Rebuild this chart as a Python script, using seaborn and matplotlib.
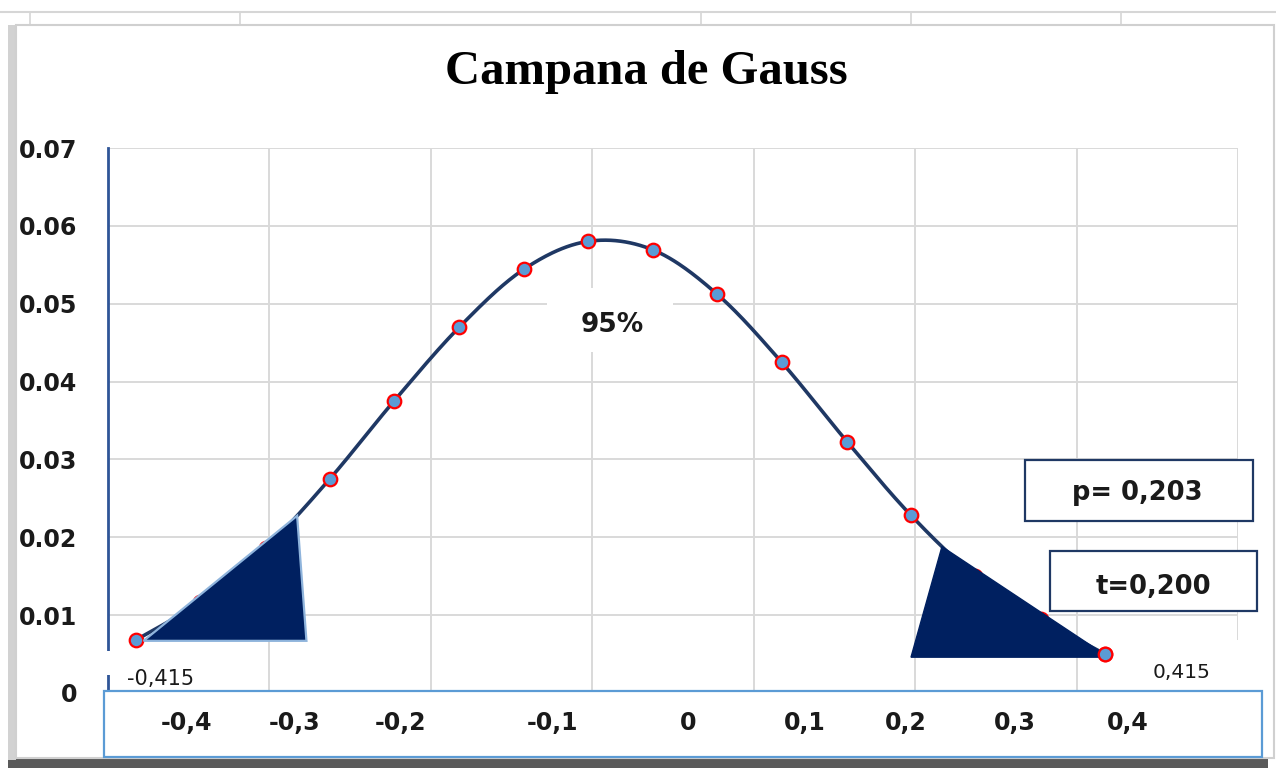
import numpy as np
import seaborn as sns
import matplotlib.pyplot as plt
from matplotlib.patches import Rectangle, Polygon
from matplotlib.lines import Line2D

# --- data ---
x_vals = [-0.415, -0.360, -0.304, -0.249, -0.194, -0.138, -0.083, -0.028,
          0.028, 0.083, 0.138, 0.194, 0.249, 0.304, 0.360, 0.415]
y_vals = [0.0068, 0.0117, 0.0186, 0.0275, 0.0375, 0.0470, 0.0544, 0.0580,
          0.0569, 0.0512, 0.0425, 0.0323, 0.0228, 0.0150, 0.0095, 0.0050]

y_ticks = [0, 0.01, 0.02, 0.03, 0.04, 0.05, 0.06, 0.07]
y_tick_labels = ["0", "0.01", "0.02", "0.03", "0.04", "0.05", "0.06", "0.07"]

box_labels = ["-0,4", "-0,3", "-0,2", "-0,1", "0", "0,1", "0,2", "0,3", "0,4"]
box_label_px = [187, 295, 400, 553, 688, 805, 906, 1015, 1128]

# hand-drawn tail shapes: (tip x, top x on curve, bottom corner x, base y)
left_tail = (-0.4085, -0.2770, -0.2690, 0.0067)
right_tail = (0.4100, 0.2754, 0.2489, 0.0046)

NAVY = "#002060"
LINE = "#1F3864"
GRID = "#D9D9D9"
TXT = "#1a1a1a"

W, H = 1276, 771


def smooth(xs, ys, n=40):
    # catmull-rom, roughly what excel does for "smoothed line"
    p = np.column_stack([xs, ys])
    p = np.vstack([2 * p[0] - p[1], p, 2 * p[-1] - p[-2]])
    out = []
    t = np.linspace(0, 1, n, endpoint=False)[:, None]
    for i in range(1, len(p) - 2):
        p0, p1, p2, p3 = p[i - 1], p[i], p[i + 1], p[i + 2]
        seg = 0.5 * ((2 * p1) + (-p0 + p2) * t + (2 * p0 - 5 * p1 + 4 * p2 - p3) * t ** 2
                     + (-p0 + 3 * p1 - 3 * p2 + p3) * t ** 3)
        out.append(seg)
    out.append(p[-2][None, :])
    out = np.vstack(out)
    return out[:, 0], out[:, 1]


sns.set_theme(style="white")
plt.rcParams['font.family'] = ['DejaVu Sans']

fig = plt.figure(figsize=(W / 100, H / 100), dpi=100)


def fx(px):
    return px / W


def fy(py):
    return 1 - py / H


def fig_rect(x0, y0, x1, y1, **kw):
    r = Rectangle((fx(x0), fy(y1)), (x1 - x0) / W, (y1 - y0) / H,
                  transform=fig.transFigure, **kw)
    fig.add_artist(r)


def fig_line(xs, ys, **kw):
    fig.add_artist(Line2D([fx(v) for v in xs], [fy(v) for v in ys],
                          transform=fig.transFigure, **kw))


# --- spreadsheet background / chart frame ---
fig_line([0, W], [12, 12], color="#d6d6d6", lw=1.5, zorder=-20)
for vx in [30, 240, 701, 911, 1121]:
    fig_line([vx, vx], [12, 25], color="#d6d6d6", lw=1.2, zorder=-20)
fig_rect(8, 30, 1268, 768, facecolor="#5a5a5a", edgecolor="none", zorder=-15)
fig_rect(8, 25, 16, 760, facecolor="#d2d2d2", edgecolor="none", zorder=-14)
fig_rect(16, 25, 1274, 758, facecolor="white", edgecolor="#d0d0d0", lw=1.5, zorder=-10)

# --- plot area ---
ax = fig.add_axes([fx(108), fy(693), (1238 - 108) / W, (693 - 148) / H])
ax.set_facecolor("none")

cx, cy = smooth(x_vals, y_vals)
sns.lineplot(x=cx, y=cy, ax=ax, color=LINE, linewidth=2.6, sort=False,
             estimator=None, zorder=3)
sns.scatterplot(x=x_vals, y=y_vals, ax=ax, s=95, color="#5B9BD5",
                edgecolor="#FF0000", linewidth=1.6, zorder=4)

# shaded tails (straight-edged shapes laid over the curve)
tip, top, corner, base = left_tail
left_pts = [(tip, base), (top, np.interp(top, cx, cy)), (corner, base)]
ax.add_patch(Polygon(left_pts, closed=True, facecolor=NAVY, edgecolor="#8FB4DC",
                     lw=1.6, zorder=5))
tip, top, corner, base = right_tail
right_pts = [(corner, base), (top, np.interp(top, cx, cy)),
             (tip, np.interp(tip, cx, cy)), (tip, base)]
ax.add_patch(Polygon(right_pts, closed=True, facecolor=NAVY, edgecolor=NAVY,
                     lw=1.0, zorder=5))
# last marker sits on top of the right shape
sns.scatterplot(x=x_vals[-1:], y=y_vals[-1:], ax=ax, s=95, color="#5B9BD5",
                edgecolor="#FF0000", linewidth=1.6, zorder=6)

xmin, xmax = -0.439, 0.529
ax.set_xlim(xmin, xmax)
ax.set_ylim(0, 0.07)
ax.set_xticks(np.linspace(xmin, xmax, 8))
ax.set_xticklabels([])
ax.set_yticks(y_ticks)
ax.set_yticklabels(y_tick_labels, fontweight="bold", fontsize=17, color=TXT)
ax.tick_params(axis="both", length=0)
ax.tick_params(axis="y", pad=22)
ax.grid(True, color=GRID, linewidth=1.4)
ax.set_axisbelow(True)
for side in ["top", "right", "bottom"]:
    ax.spines[side].set_visible(False)
ax.spines["left"].set_color("#2F5597")
ax.spines["left"].set_linewidth(2)
ax.spines["left"].set_zorder(2)

# --- title ---
fig.text(fx(646), fy(72), "Campana de Gauss", family="Liberation Serif",
         fontweight="bold", fontsize=35, ha="center", va="center", color="black")

# --- overlays ---
fig_rect(547, 288, 673, 352, facecolor="white", edgecolor="none", zorder=1)
fig.text(fx(612), fy(325), "95%", fontweight="bold", fontsize=19,
         ha="center", va="center", color=TXT, zorder=6)

fig_rect(100, 651, 206, 675, facecolor="white", edgecolor="none", zorder=1)
fig.text(fx(127), fy(679), "-0,415", fontsize=15, ha="left", va="center",
         color=TXT, zorder=6)
fig_rect(1130, 640, 1248, 690, facecolor="white", edgecolor="none", zorder=1)
fig.text(fx(1153), fy(673), "0,415", fontsize=14.5, ha="left", va="center",
         color=TXT, zorder=6)

fig_rect(1025, 460, 1253, 521, facecolor="white", edgecolor="#1F3864", lw=1.6, zorder=5)
fig.text(fx(1137), fy(493), "p= 0,203", fontweight="bold", fontsize=18.5,
         ha="center", va="center", color=TXT, zorder=6)
fig_rect(1050, 551, 1257, 611, facecolor="white", edgecolor="#1F3864", lw=1.6, zorder=5)
fig.text(fx(1153), fy(587), "t=0,200", fontweight="bold", fontsize=18.5,
         ha="center", va="center", color=TXT, zorder=6)

fig_rect(104, 691, 1262, 757, facecolor="white", edgecolor="#5B9BD5", lw=1.6, zorder=5)
for lab, px in zip(box_labels, box_label_px):
    fig.text(fx(px), fy(723), lab, fontweight="bold", fontsize=17,
             ha="center", va="center", color=TXT, zorder=6)

fig.savefig("out.png", dpi=100)
